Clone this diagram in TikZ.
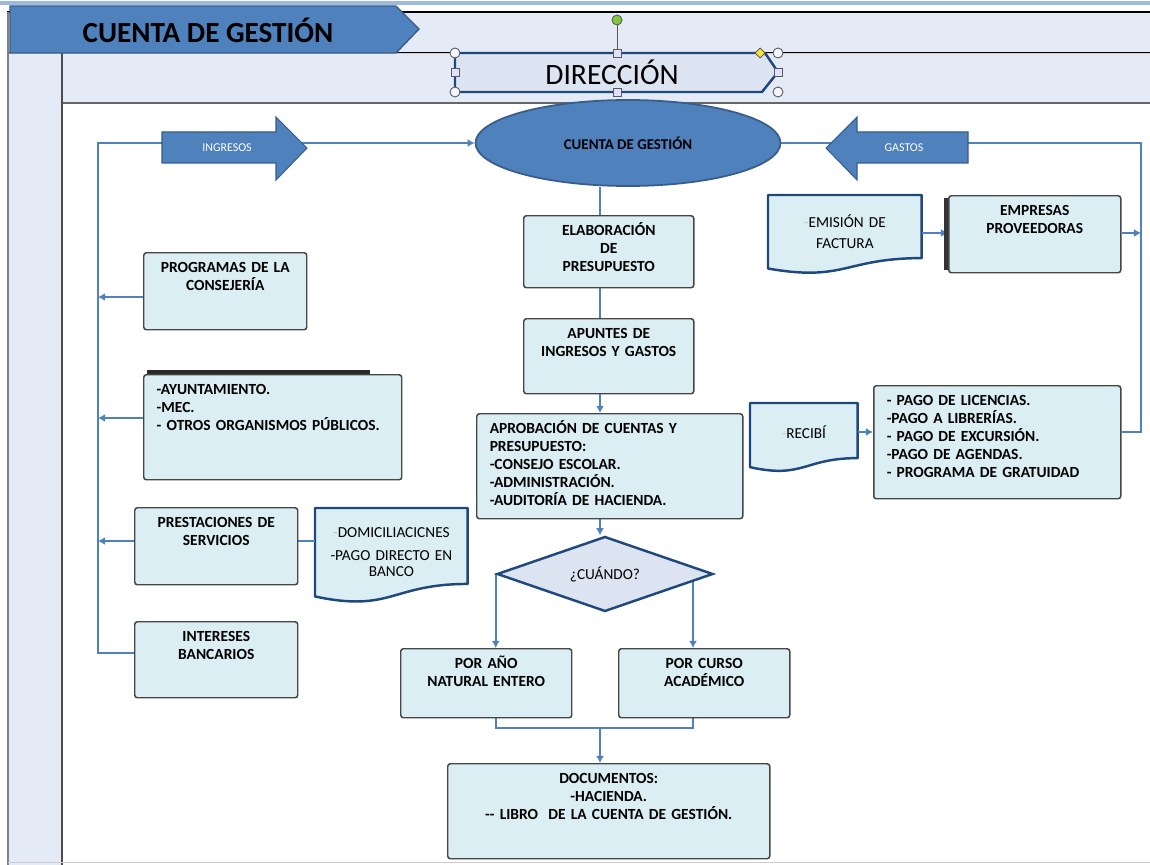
\documentclass[tikz,border=0pt]{standalone}
\usepackage{fontspec}
\setmainfont{Carlito}
\usetikzlibrary{shapes.geometric, arrows.meta, positioning, calc, backgrounds}
\definecolor{azulgestion}{RGB}{79,129,189}
\definecolor{azuloscuro}{RGB}{31,73,125}
\definecolor{azulborde}{RGB}{56,93,138}
\definecolor{fondobanda}{RGB}{228,235,246}
\definecolor{celeste}{RGB}{219,238,243}
\definecolor{lavanda}{RGB}{220,228,242}
\definecolor{grisborde}{RGB}{70,70,70}
\definecolor{verdeasa}{RGB}{130,200,60}
\definecolor{amarilloasa}{RGB}{250,225,50}
\newcommand{\pxu}{0.02cm}
\newcommand{\cajafont}{\fontsize{8.8}{10.2}\selectfont\bfseries}
\newcommand{\docfont}{\fontsize{8.7}{12}\selectfont}
% contorno de documento (borde inferior ondulado)
\newcommand{\hoja}[1]{%
  \draw[draw=azuloscuro, fill=celeste, line width=1.4pt, line join=round]
    let \p1=(#1.north west), \p2=(#1.south east) in
    (\x1,\y1) -- (\x2,\y1) -- (\x2,{\y1+0.802*(\y2-\y1)})
    .. controls ({0.5*(\x1+\x2)},{\y1+0.802*(\y2-\y1)}) and ({0.5*(\x1+\x2)},{\y1+1.107*(\y2-\y1)}) ..
    (\x1,{\y1+0.934*(\y2-\y1)}) -- cycle;}

\begin{document}
\begin{tikzpicture}[x=0.02cm, y=-0.02cm,
        caja/.style 2 args={rectangle, draw=grisborde, fill=celeste, line width=0.85pt, rounded corners=1.5pt,
            anchor=north west, inner xsep=0pt, inner ysep=0pt, align=center, font=\cajafont,
            text width=(#1)*\pxu, text height=20*\pxu, text depth=(#2-20)*\pxu},
        lista/.style 2 args={caja={#1}{#2}, align=left, inner xsep=13*\pxu, text width=(#1-26)*\pxu},
        documento/.style n args={3}{rectangle, anchor=north west, inner sep=0pt, align=center, font=\docfont,
            text width=(#1)*\pxu, text height=(#3)*\pxu, text depth=(#2-#3)*\pxu},
        flecha/.style={draw=azulborde, fill=azulgestion, line width=0.6pt},
        rotulo/.style={font=\fontsize{6.8}{8}\selectfont, text=white},
        enlace/.style={draw=azulgestion, line width=1.3pt},
        punta/.style={enlace, -{Latex[length=4pt, width=4.5pt]}},
        asa/.style={draw=gray!70!black, fill=blue!4!white, line width=0.5pt}
    ]
    \useasboundingbox (0,0) rectangle (1150,865);

    % marco de la ventana
    \begin{scope}[on background layer]
        \fill[white] (0,0) rectangle (1150,865);
        \draw[azulgestion!55, line width=2pt] (0,3) -- (1150,3);
        \draw[fill=fondobanda, draw=black, line width=0.8pt] (8,12) rectangle (1160,53);
        \fill[fondobanda] (8,53) rectangle (62,870);
        \draw[fill=fondobanda, draw=gray!80!black, line width=0.8pt] (62,53) rectangle (1160,103);
        \draw[black, line width=0.6pt, double=gray!40, double distance=0.5pt] (8,53) -- (1160,53);
        \draw[gray!60!black, line width=1.6pt] (62,53) -- (62,870);
        \draw[gray, line width=0.6pt] (8,12) -- (8,870);
        \draw[gray!40, line width=0.5pt] (8,862) -- (1160,862);
        \draw[fill=azulgestion, draw=azulborde, line width=0.8pt] (10,6) -- (396,6) -- (419,29) -- (396,53) -- (10,53) -- cycle;
        \draw[fill=lavanda, draw=azuloscuro, line width=1.4pt] (455,53) -- (765,53) -- (778,72) -- (762,92) -- (455,92) -- cycle;
    \end{scope}

    \node[font=\fontsize{16.6}{18}\selectfont\bfseries] (titulo) at (208,30) {CUENTA DE GESTIÓN};
    \node[font=\fontsize{16.8}{18}\selectfont] (direccion) at (612,72) {DIRECCIÓN};

    % asas de seleccion
    \draw[gray!70!black, line width=0.5pt] (617,25) -- (617,53);
    \draw[asa, fill=verdeasa] (617,20) circle[radius=5];
    \draw[asa] (455,53) circle[radius=5];
    \draw[asa] (778,53) circle[radius=5];
    \draw[asa] (455,92) circle[radius=5];
    \draw[asa] (778,92) circle[radius=5];
    \draw[asa, fill=blue!12!white] (613,49) rectangle (621,57);
    \draw[asa, fill=blue!12!white] (613,88) rectangle (621,96);
    \draw[asa, fill=blue!12!white] (451,68) rectangle (459,76);
    \draw[asa, fill=blue!12!white] (774,68) rectangle (782,76);
    \draw[draw=gray!60!black, fill=amarilloasa, line width=0.4pt] (760,48) -- (765,53) -- (760,58) -- (755,53) -- cycle;

    % nucleo
    \node[ellipse, draw=azulborde, fill=azulgestion, line width=1pt, minimum width=305*\pxu, minimum height=86*\pxu,
        font=\fontsize{8.5}{10}\selectfont\bfseries] (cuenta) at (628,143) {CUENTA DE GESTIÓN};
    \draw[flecha] (162,132) -- (276,132) -- (276,117) -- (307,148) -- (276,180) -- (276,163) -- (162,163) -- cycle;
    \node[rotulo] (ingresos) at (227,148) {INGRESOS};
    \draw[flecha] (968,132) -- (857,132) -- (857,117) -- (826,148) -- (857,180) -- (857,163) -- (968,163) -- cycle;
    \node[rotulo] (gastos) at (904,148) {GASTOS};

    % columna central
    \node[caja={170}{72}] (elaboracion) at (523,215) {ELABORACIÓN\\DE\\PRESUPUESTO};
    \node[caja={170}{75}] (apuntes) at (523,318) {APUNTES DE\\INGRESOS Y GASTOS};
    \node[lista={266}{105}] (aprobacion) at (476,413) {APROBACIÓN DE CUENTAS Y\\PRESUPUESTO:\\-CONSEJO ESCOLAR.\\-ADMINISTRACIÓN.\\-AUDITORÍA DE HACIENDA.};
    \node[diamond, draw=azuloscuro, fill=lavanda, line width=1.4pt, aspect=2.9, inner sep=0pt,
        minimum width=216*\pxu, minimum height=75*\pxu, font=\fontsize{8.7}{10}\selectfont] (cuando) at (605,574) {¿CUÁNDO?};
    \node[caja={171}{69}] (anio) at (400,648) {POR AÑO\\NATURAL ENTERO};
    \node[caja={171}{69}] (curso) at (618,648) {POR CURSO\\ACADÉMICO};
    \node[caja={322}{95}] (documentos) at (447,763) {DOCUMENTOS:\\-HACIENDA.\\-{}- LIBRO\ \ DE LA CUENTA DE GESTIÓN.};

    % ingresos
    \node[caja={163}{77}] (programas) at (143,252) {PROGRAMAS DE LA\\CONSEJERÍA};
    \node[lista={258}{105}] (ayuntamiento) at (143,374) {-AYUNTAMIENTO.\\-MEC.\\- OTROS ORGANISMOS PÚBLICOS.};
    \node[caja={163}{77}] (prestaciones) at (134,507) {PRESTACIONES DE\\SERVICIOS};
    \node[documento={152}{94}{29}, font=\fontsize{8.7}{9.2}\selectfont] (domiciliaciones) at (315,508)
        {{\color{gray!45}-}DOMICILIACICNES\\[3.8pt]-PAGO DIRECTO EN\\BANCO};
    \node[caja={163}{76}] (intereses) at (134,621) {INTERESES\\BANCARIOS};
    \draw[grisborde!60!black, line width=1.8pt] ($(ayuntamiento.north west)+(4,-2)$) -- ($(ayuntamiento.north west)+(227,-2)$);

    % gastos
    \node[documento={153}{78}{32}] (emision) at (768,195) {{\color{white!60!gray}-}EMISIÓN DE\\FACTURA};
    \node[caja={172}{77}] (empresas) at (948,195) {EMPRESAS\\PROVEEDORAS};
    \node[documento={107}{68}{35}] (recibi) at (750,403) {{\color{white!60!gray}-}RECIBÍ};
    \node[lista={247}{113}] (pagos) at (873,385) {- PAGO DE LICENCIAS.\\-PAGO A LIBRERÍAS.\\- PAGO DE EXCURSIÓN.\\-PAGO DE AGENDAS.\\- PROGRAMA DE GRATUIDAD};
    \draw[black!80, line width=2.2pt] ($(empresas.north west)+(-2,3)$) -- ($(empresas.south west)+(-2,-3)$);

    % conectores
    \begin{scope}[on background layer]
        \hoja{domiciliaciones}
        \hoja{emision}
        \hoja{recibi}
        \coordinate (colizq) at (98,143);
        \coordinate (c1) at (98,297);
        \coordinate (c2) at (98,418);
        \coordinate (c3) at (98,541);
        \coordinate (c4) at (98,653);
        \draw[punta] (intereses.west |- c4) -| (colizq) -- (cuenta.west);
        \draw[punta] (programas.west |- c1) -- (c1);
        \draw[punta] (ayuntamiento.west |- c2) -- (c2);
        \draw[punta] (prestaciones.west |- c3) -- (c3);
        \draw[enlace] (prestaciones.east |- c3) -- (domiciliaciones.west |- c3);

        \coordinate (colder) at (1141,143);
        \coordinate (d1) at (1141,233);
        \coordinate (d2) at (1141,432);
        \draw[enlace] (pagos.east |- d2) -| (colder) -- (cuenta.east);
        \draw[punta] (empresas.east |- d1) -- (d1);
        \draw[punta] (emision.east |- d1) -- (empresas.west |- d1);
        \draw[punta] (recibi.east |- d2) -- (pagos.west |- d2);

        \coordinate (eje) at (600,0);
        \coordinate (ejeder) at (693,0);
        \coordinate (union) at (600,728);
        \draw[enlace] (cuenta.south -| eje) -- (elaboracion.north -| eje);
        \draw[enlace] (elaboracion.south -| eje) -- (apuntes.north -| eje);
        \draw[punta] (apuntes.south -| eje) -- (aprobacion.north -| eje);
        \draw[punta] (aprobacion.south -| eje) -- (cuando.north -| eje);
        \draw[punta] (cuando.west) -- (cuando.west |- anio.north);
        \draw[punta] (cuando.east -| ejeder) -- (curso.north -| ejeder);
        \draw[enlace] (anio.south -| cuando.west) |- (union) -| (curso.south -| ejeder);
        \draw[punta] (union) -- (documentos.north -| union);
    \end{scope}
\end{tikzpicture}
\end{document}
